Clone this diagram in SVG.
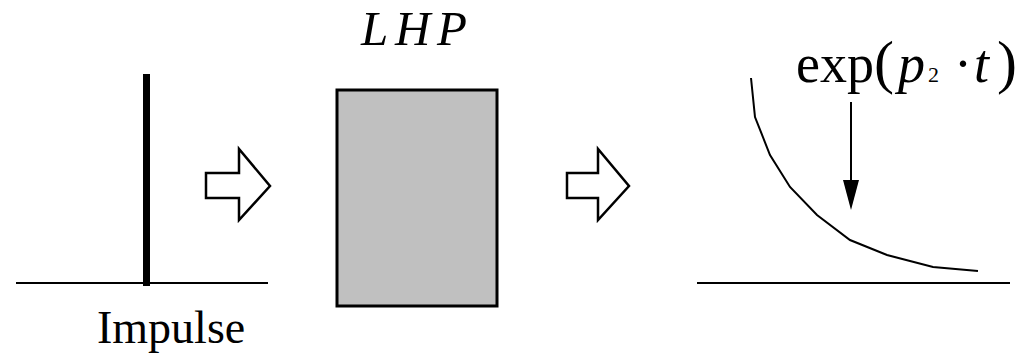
<svg xmlns="http://www.w3.org/2000/svg" width="1025" height="355" viewBox="0 0 1025 355">
<style>
.ln{stroke:#000;stroke-width:2;fill:none}
.blk{stroke:#000;stroke-width:2.5;fill:#fff;stroke-linejoin:miter}
.t{font-family:"Liberation Serif","Times New Roman",serif;fill:#000}
</style>
<g id="impulse">
<line class="ln" x1="16" y1="283" x2="268" y2="283"/>
<rect x="143" y="74" width="7" height="212" fill="#000"/>
<text class="t" x="97" y="343" font-size="46">Impulse</text>
</g>
<g id="lhp">
<rect x="337" y="90" width="160" height="216" fill="#c0c0c0" stroke="#000" stroke-width="3"/>
<text class="t" x="361" y="45" font-size="49" font-style="italic" textLength="106" lengthAdjust="spacing">LHP</text>
</g>
<g id="response">
<line class="ln" x1="697" y1="283" x2="1010" y2="283"/>
<polyline class="ln" points="751,78 755,117 770,155 790,187 817,215 850,240 887,255 933,267 978,271"/>
<text class="t" x="796" y="82" font-size="54"><tspan>exp</tspan><tspan x="874" font-size="60">(</tspan><tspan x="898" font-style="italic">p</tspan><tspan x="928" font-size="22">2</tspan><tspan x="954">·</tspan><tspan x="974" font-style="italic">t</tspan><tspan x="997" font-size="60">)</tspan></text>
</g>
<g id="connectors">
<path class="blk" d="M206,173 H239 V149 L270,186 L239,220 V198 H206 Z"/>
<path class="blk" d="M567,173 H598 V149 L629,186 L598,220 V198 H567 Z"/>
<line x1="851" y1="102" x2="851" y2="185" stroke="#000" stroke-width="2"/>
<polygon points="843,180 859,180 851,210" fill="#000"/>
</g>
</svg>
